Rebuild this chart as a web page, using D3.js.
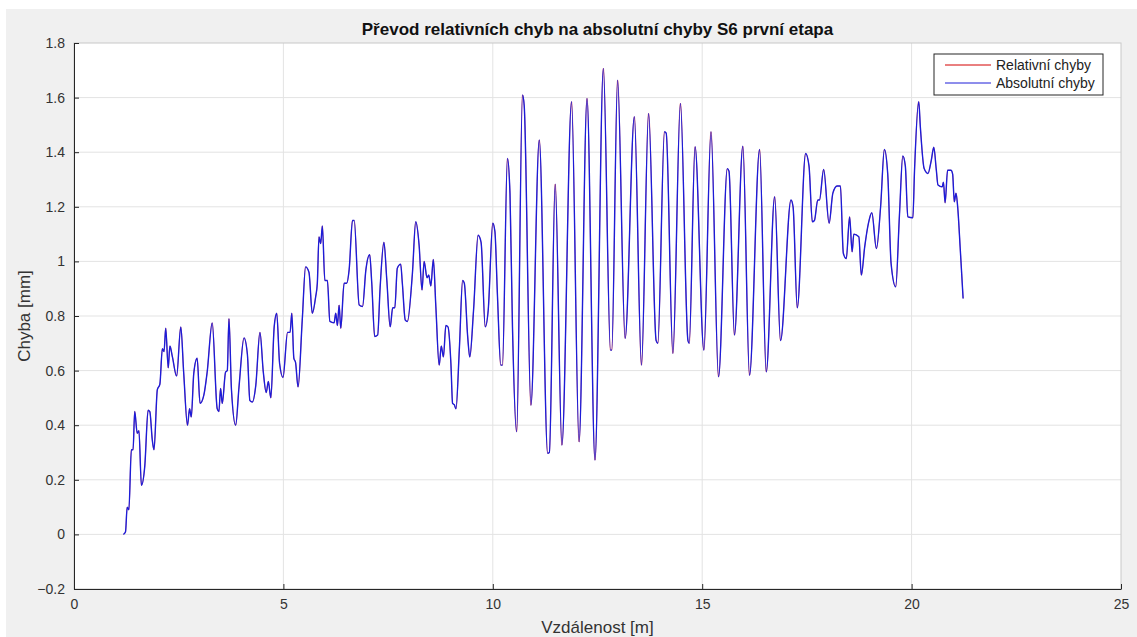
<!DOCTYPE html>
<html>
<head>
<meta charset="utf-8">
<script src="https://cdn.jsdelivr.net/npm/d3@7"></script>
<style>
  body { margin: 0; background: #fff; }
  svg { font-family: "Liberation Sans", Arial, sans-serif; }
</style>
</head>
<body>
<svg class="chart" width="1137" height="637"></svg>
<script>
// distance [m]
var vzdalenost = [
  1.18,1.23,1.27,1.31,1.37,1.41,1.45,1.51,1.55,1.61,1.69,1.77,1.81,1.87,1.91,1.99,2.05,2.11,2.15,2.19,
  2.25,2.29,2.35,2.45,2.55,2.62,2.71,2.76,2.80,2.86,2.94,3.01,3.10,3.18,3.30,3.42,3.46,3.50,3.54,3.62,
  3.66,3.70,3.76,3.86,3.94,4.06,4.14,4.20,4.26,4.34,4.44,4.52,4.59,4.64,4.70,4.78,4.84,4.91,4.99,5.10,
  5.16,5.20,5.25,5.29,5.35,5.45,5.53,5.61,5.69,5.77,5.81,5.85,5.89,5.93,5.99,6.05,6.11,6.21,6.25,6.29,
  6.33,6.37,6.45,6.51,6.57,6.65,6.69,6.81,6.89,6.97,7.06,7.11,7.18,7.25,7.31,7.40,7.47,7.55,7.61,7.66,
  7.72,7.80,7.84,7.91,7.96,8.08,8.16,8.24,8.31,8.36,8.43,8.47,8.52,8.58,8.64,8.72,8.77,8.82,8.88,8.93,
  9.00,9.04,9.08,9.12,9.20,9.28,9.32,9.40,9.45,9.54,9.65,9.72,9.82,9.89,10.00,10.05,10.11,10.19,10.23,10.35,
  10.41,10.47,10.57,10.71,10.75,10.91,11.11,11.31,11.35,11.49,11.65,11.88,12.06,12.25,12.44,12.64,12.81,12.84,12.98,13.16,
  13.38,13.55,13.72,13.90,13.94,14.10,14.14,14.30,14.48,14.66,14.69,14.83,15.04,15.21,15.39,15.60,15.64,15.77,15.97,16.13,
  16.37,16.53,16.73,16.87,17.12,17.17,17.27,17.47,17.55,17.63,17.68,17.76,17.80,17.90,18.03,18.12,18.22,18.30,18.37,18.44,
  18.52,18.58,18.62,18.74,18.80,18.88,18.97,19.05,19.16,19.26,19.35,19.43,19.51,19.62,19.71,19.79,19.85,19.91,20.03,20.07,
  20.17,20.21,20.30,20.39,20.47,20.53,20.59,20.63,20.73,20.76,20.80,20.86,20.94,20.98,21.02,21.06,21.10,21.16,21.23
];
// absolute error [mm]
var absolutniChyby = [
  0.00,0.01,0.10,0.09,0.31,0.31,0.45,0.37,0.38,0.18,0.25,0.455,0.45,0.345,0.31,0.53,0.55,0.68,0.67,0.755,
  0.61,0.69,0.65,0.58,0.76,0.59,0.40,0.46,0.43,0.59,0.645,0.48,0.51,0.595,0.775,0.46,0.45,0.535,0.48,0.595,
  0.60,0.79,0.53,0.40,0.54,0.72,0.66,0.49,0.485,0.545,0.74,0.595,0.52,0.56,0.50,0.76,0.81,0.625,0.575,0.74,
  0.74,0.81,0.645,0.63,0.54,0.785,0.98,0.96,0.81,0.87,0.92,1.09,1.065,1.13,0.93,0.93,0.78,0.775,0.81,0.765,
  0.84,0.755,0.92,0.92,0.97,1.15,1.15,0.84,0.835,0.97,1.025,0.92,0.725,0.73,0.905,1.07,0.93,0.76,0.83,0.83,
  0.975,0.99,0.92,0.785,0.78,0.955,1.145,1.06,0.895,1.00,0.94,0.95,0.91,1.007,0.835,0.62,0.69,0.65,0.765,0.76,
  0.625,0.48,0.475,0.46,0.675,0.93,0.92,0.725,0.65,0.82,1.096,1.07,0.76,0.82,1.14,1.11,0.88,0.62,0.62,1.377,
  1.25,0.76,0.376,1.61,1.57,0.473,1.445,0.297,0.30,1.283,0.327,1.585,0.339,1.597,0.272,1.707,0.675,0.675,1.664,0.718,
  1.53,0.62,1.542,0.71,0.70,1.475,1.47,0.663,1.579,0.71,0.70,1.42,0.675,1.475,0.577,1.34,1.33,0.73,1.422,0.583,
  1.41,0.595,1.237,0.71,1.225,1.20,0.83,1.395,1.35,1.145,1.15,1.225,1.225,1.337,1.14,1.25,1.276,1.276,1.03,1.01,
  1.163,1.035,1.10,1.09,0.95,1.053,1.14,1.178,1.047,1.20,1.41,1.32,0.993,0.907,1.17,1.386,1.35,1.163,1.16,1.334,
  1.585,1.49,1.34,1.322,1.37,1.418,1.335,1.28,1.273,1.29,1.215,1.334,1.334,1.32,1.218,1.25,1.20,1.05,0.864
];
// relative errors plotted underneath (hidden by the blue line in the original)
var relativniChyby = absolutniChyby.slice();

var xTicks = [0, 5, 10, 15, 20, 25];
var yTicks = [-0.2, 0, 0.2, 0.4, 0.6, 0.8, 1, 1.2, 1.4, 1.6, 1.8];
var seriesNames = ["Relativní chyby", "Absolutní chyby"];
var seriesColors = ["#d40000", "#1c1cd8"];

var svg = d3.select('.chart');

// figure background
svg.append('rect')
    .attr('x', 6).attr('y', 9)
    .attr('width', 1131).attr('height', 628)
    .style('fill', '#f0f0f0');

var plotLeft = 74, plotRight = 1121, plotTop = 43, plotBottom = 589;

var x = d3.scaleLinear().domain([0, 25]).range([plotLeft, plotRight]);
var y = d3.scaleLinear().domain([-0.2, 1.8]).range([plotBottom, plotTop]);

svg.append('rect')
    .attr('x', plotLeft).attr('y', plotTop)
    .attr('width', plotRight - plotLeft).attr('height', plotBottom - plotTop)
    .style('fill', '#fff');

// grid
var grid = svg.append('g');
grid.selectAll('.vg')
    .data(xTicks.slice(1, -1))
    .enter().append('line')
    .attr('x1', function(d) { return x(d); })
    .attr('x2', function(d) { return x(d); })
    .attr('y1', plotTop).attr('y2', plotBottom)
    .style('stroke', '#e3e3e3');
grid.selectAll('.hg')
    .data(yTicks.slice(1, -1))
    .enter().append('line')
    .attr('y1', function(d) { return y(d); })
    .attr('y2', function(d) { return y(d); })
    .attr('x1', plotLeft).attr('x2', plotRight)
    .style('stroke', '#e3e3e3');

// axes box
svg.append('rect')
    .attr('x', plotLeft).attr('y', plotTop)
    .attr('width', plotRight - plotLeft).attr('height', plotBottom - plotTop)
    .style('fill', 'none')
    .style('stroke', '#c8c8c8');

var xAxis = d3.axisBottom(x).tickValues(xTicks).tickSizeInner(-5).tickSizeOuter(0).tickPadding(10);
var yAxis = d3.axisLeft(y).tickValues(yTicks).tickSizeInner(-5).tickSizeOuter(0).tickPadding(9)
    .tickFormat(function(d) { return d3.format('')(+d.toFixed(1)); });

svg.append('g')
    .attr('transform', 'translate(0,' + plotBottom + ')')
    .call(xAxis);
svg.append('g')
    .attr('transform', 'translate(' + plotLeft + ',0)')
    .call(yAxis);

svg.selectAll('.domain').style('stroke', '#262626');
svg.selectAll('.tick line').style('stroke', '#262626');
svg.selectAll('.tick text')
    .style('font-size', '14px')
    .style('font-family', '"Liberation Sans", Arial, sans-serif')
    .style('fill', '#333');

// lines
var line = d3.line()
    .x(function(d) { return x(d[0]); })
    .y(function(d) { return y(d[1]); })
    .curve(d3.curveMonotoneX);

var relData = vzdalenost.map(function(v, i) { return [v, relativniChyby[i]]; });
var absData = vzdalenost.map(function(v, i) { return [v, absolutniChyby[i]]; });

svg.append('path')
    .datum(relData)
    .attr('d', line)
    .style('fill', 'none')
    .style('stroke', seriesColors[0])
    .style('stroke-width', 0.5);

svg.append('path')
    .datum(absData)
    .attr('d', line)
    .style('fill', 'none')
    .style('stroke', seriesColors[1])
    .style('stroke-width', 1.4)
    .style('stroke-linejoin', 'round');

// title + labels
svg.append('text')
    .attr('x', (plotLeft + plotRight) / 2).attr('y', 35)
    .attr('text-anchor', 'middle')
    .style('font-size', '17px')
    .style('font-weight', 'bold')
    .style('fill', '#111')
    .text('Převod relativních chyb na absolutní chyby S6 první etapa');

svg.append('text')
    .attr('x', (plotLeft + plotRight) / 2).attr('y', 633)
    .attr('text-anchor', 'middle')
    .style('font-size', '17px')
    .style('fill', '#333')
    .text('Vzdálenost [m]');

svg.append('text')
    .attr('transform', 'translate(30,' + ((plotTop + plotBottom) / 2) + ') rotate(-90)')
    .attr('text-anchor', 'middle')
    .style('font-size', '17px')
    .style('fill', '#333')
    .text('Chyba [mm]');

// legend
var legend = svg.append('g').attr('transform', 'translate(934,54)');
legend.append('rect')
    .attr('width', 169).attr('height', 41)
    .style('fill', '#fff')
    .style('stroke', '#262626');
legend.selectAll('.lg')
    .data(seriesNames)
    .enter().append('line')
    .attr('x1', 11).attr('x2', 57)
    .attr('y1', function(d, i) { return 11 + i * 18; })
    .attr('y2', function(d, i) { return 11 + i * 18; })
    .style('stroke', function(d, i) { return seriesColors[i]; });
legend.selectAll('.lt')
    .data(seriesNames)
    .enter().append('text')
    .attr('x', 62)
    .attr('y', function(d, i) { return 16 + i * 18; })
    .style('font-size', '14px')
    .style('fill', '#222')
    .text(function(d) { return d; });
</script>
</body>
</html>
